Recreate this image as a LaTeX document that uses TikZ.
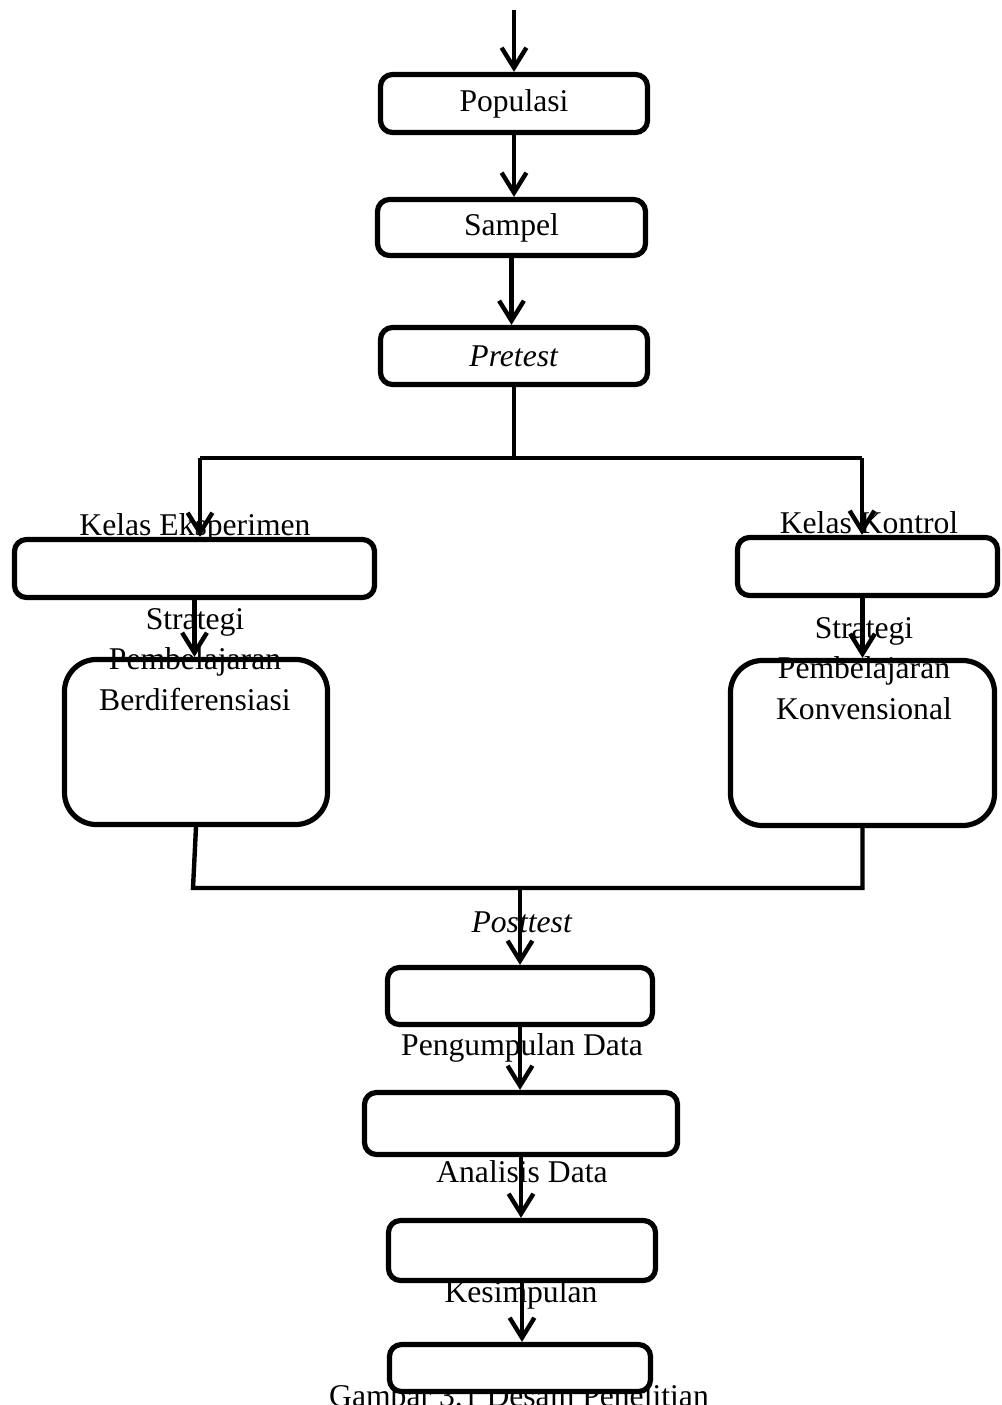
\documentclass[tikz,border=0pt]{standalone}
\usepackage{fontspec}
\setmainfont{Liberation Serif}
\usetikzlibrary{arrows.meta}
\tikzset{
	every text node part/.style= {
		align=center
	},
	txt/.style= {
		font=\fontsize{22.5}{28.5}\selectfont,
		inner sep=0,
		anchor=base
	},
	box/.style= {
		rectangle,
		draw,
		line width=0.13cm,
		rounded corners=0.3cm,
		font=\fontsize{22.5}{28.5}\selectfont
	},
	bigbox/.style= {
		box,
		rounded corners=0.8cm
	},
	link/.style= {
		line width=0.11cm
	},
	flow/.style= {
		link,
		-{Straight Barb[length=0.5cm, width=0.62cm]}
	},
}

\begin{document}
\begin{tikzpicture}[x=0.025cm, y=-0.025cm]
	
	\useasboundingbox (0,0) rectangle (1001,1405);
	
	% texts that sit beside the boxes
	\node (eksLabel)[txt] at (195,535) {Kelas Eksperimen};
	\node (konLabel)[txt] at (869,533) {Kelas Kontrol};
	\node (berdLabel)[txt] at (195,710) {Strategi\\Pembelajaran\\Berdiferensiasi};
	\node (konvLabel)[txt] at (864,719) {Strategi\\Pembelajaran\\Konvensional};
	\node (postLabel)[txt] at (522,932) {\textit{Posttest}};
	\node (pengLabel)[txt] at (522,1055) {Pengumpulan Data};
	\node (analLabel)[txt] at (522,1182) {Analisis Data};
	\node (kesLabel)[txt] at (521,1302) {Kesimpulan};
	\node (caption)[txt] at (519,1406) {Gambar 3.1 Desain Penelitian};
	
	% boxes
	\node (pop)[box, minimum width=6.675cm, minimum height=1.45cm] at (514,103.5) {Populasi};
	\node (samp)[box, minimum width=6.7cm, minimum height=1.4cm] at (511.5,227.5) {Sampel};
	\node (pre)[box, minimum width=6.675cm, minimum height=1.425cm] at (514,356) {\textit{Pretest}};
	\node (eks)[box, minimum width=9cm, minimum height=1.45cm] at (194.5,568.5) {};
	\node (kon)[box, minimum width=6.5cm, minimum height=1.45cm] at (867.5,566.5) {};
	\node (berd)[bigbox, minimum width=6.575cm, minimum height=4.125cm] at (196,742) {};
	\node (konv)[bigbox, minimum width=6.6cm, minimum height=4.125cm] at (862.5,743) {};
	\node (peng)[box, minimum width=6.625cm, minimum height=1.425cm] at (520,996) {};
	\node (anal)[box, minimum width=7.825cm, minimum height=1.55cm] at (521,1123.5) {};
	\node (kes)[box, minimum width=6.675cm, minimum height=1.5cm] at (522,1250.5) {};
	\node (akhir)[box, fill=white, minimum width=6.525cm, minimum height=1.175cm] at (520,1368) {};
	
	% connectors
	\coordinate (start) at (514,10);
	\coordinate (splitL) at (200,458);
	\coordinate (splitR) at (862,458);
	\coordinate (joinL) at (193,888);
	\coordinate (joinM) at (520,888);
	
	\draw[flow] (start) -- (pop.north);
	\draw[flow] (pop.south) -- (pop.south |- samp.north);
	\draw[flow] (samp.south) -- (samp.south |- pre.north);
	\draw[link] (pre.south) |- (splitL);
	\draw[link] (pre.south) |- (splitR);
	\draw[flow] (splitL) -- (splitL |- eks.north);
	\draw[flow] (splitR) -- (splitR |- kon.north);
	\draw[flow] (eks.south) -- (eks.south |- berd.north);
	\draw[flow] (konv.north |- kon.south) -- (konv.north);
	\draw[link] (berd.south) -- (joinL) -| (konv.south);
	\draw[flow] (joinM) -- (peng.north);
	\draw[flow] (peng.south) -- (peng.south |- anal.north);
	\draw[flow] (anal.south) -- (anal.south |- kes.north);
	\draw[flow] (kes.south) -- (kes.south |- akhir.north);
	
\end{tikzpicture}
\end{document}
